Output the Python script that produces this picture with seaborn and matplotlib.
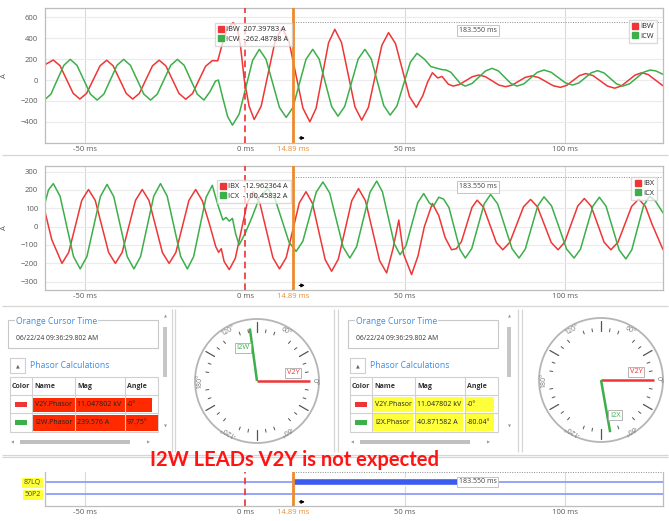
import numpy as np
import pandas as pd
import seaborn as sns
import matplotlib.pyplot as plt
from matplotlib.lines import Line2D
from matplotlib.patches import Rectangle

sns.set_style('white')
plt.rcParams['font.family'] = ['Open Sans', 'DejaVu Sans']

W, H = 669, 521

# ---- waveform data (ms, A) ----
ibw_t = [-62.8, -60, -57.9, -55.85, -53.8, -51.7, -49.6, -47.5, -45.4, -43.3, -41.3, -39.25, -37.2, -35.2, -33.1, -31.05,
         -29.0, -26.9, -24.8, -22.75, -20.7, -18.6, -16.5, -14.45, -12.4, -10.3, -8.6, -7.4, -5.8, -3.8, -2.5, -1.5, -0.3,
         1.2, 2.8, 4.98, 7.15, 9.33, 11.5, 13.68, 15.85, 18.03, 20.2, 22.15, 24.1, 26.05, 28, 30.1, 32.2, 34.3, 36.4,
         38.5, 40.6, 42.7, 44.8, 46.98, 49.15, 51.33, 53.5, 55.5, 57, 58.5, 60.2, 61.5, 63.5, 65, 67, 69, 71, 73, 75.1,
         77.2, 79.3, 81.4, 83.4, 85.45, 87.5, 89.5, 91.75, 94, 96.25, 98.5, 100.5, 102.5, 104.5, 106.5, 108.75, 111,
         113.25, 115.5, 117.6, 119.75, 121.9, 124, 126, 128, 130.6]
ibw_a = [144, 192, 137, 5, -127, -182, -128, 4, 136, 190, 136, 4, -128, -182, -128, 4,
         136, 190, 135, 3, -129, -184, -130, 1, 132, 186, 184, 320, 480, 550, 500, 330, 0,
         -250, -378, -250, 61, 372, 500, 369, 50, -269, -400, -271, 43, 357, 486, 359, 51, -257, -384,
         -262, 35, 332, 454, 349, 96, -157, -262, -150, -20, 70, 20, 35, -40, -58, -42, -5, 32, 48, 32,
         -8, -48, -64, -49, -12, 25, 40, 24, -15, -54, -70, -51, -4, 43, 62, 42, -8,
         -58, -78, -56, -4, 48, 70, 52, 5, -55]

icw_t = [-62.8, -60.75, -58.75, -56.7, -54.7, -52.6, -50.5, -48.4, -46.3, -44.2, -42.15, -40.1, -38, -35.9, -33.8,
         -31.7, -29.6, -27.5, -25.4, -23.3, -21.2, -19.1, -17.05, -15.0, -12.9, -11, -9.3, -8.4, -7.2, -5.5, -4, -1.9,
         0.2, 2.3, 4.4, 6.5, 8.6, 10.7, 12.8, 14.9, 16.95, 19.0, 21.1, 23.1, 25.05, 27.0, 29, 31.1, 33.2, 35.3, 37.4,
         39.4, 41.35, 43.3, 45.3, 47.4, 49.5, 51.6, 53.7, 56, 58, 60, 61.5, 62.8, 64.3, 65.8, 67.3, 68.8, 70.9, 73,
         75.1, 77.2, 79.15, 81.1, 83.05, 85, 87.1, 89.2, 91.3, 93.4, 95.6, 97.85, 100.1, 102.3, 104.3, 106.25, 108.2,
         110.2, 112.15, 114.1, 116.05, 118, 120.15, 122.3, 124.45, 126.6, 128.3, 130.6]
icw_a = [-192, -135, 3, 141, 198, 141, 3, -135, -192, -135, 3, 141, 198, 141, 3,
         -135, -192, -135, 3, 141, 198, 141, 3, -135, -192, -110, -10, 0, -150, -350, -432, -326,
         -69, 188, 294, 199, -32, -263, -358, -263, -32, 199, 294, 201, -26, -253, -346, -253, -26, 201, 294,
         202, -21, -244, -336, -250, -40, 170, 256, 200, 130, 112, 100, 96, 74, 19, -36, -58, -33, 27,
         87, 112, 87, 27, -33, -58, -36, 19, 74, 96, 75, 24, -27, -48, -28, 21, 70,
         90, 68, 16, -36, -58, -36, 19, 74, 96, 88, 55]

ibx_t = [-62.8, -60.5, -57.3, -55.2, -53.15, -51.1, -49, -46.9, -44.8, -42.7, -40.6, -38.5, -36.4, -34.3, -32.2, -30.1,
         -28.0, -25.9, -23.8, -21.7, -19.65, -17.6, -15.5, -13.4, -11.3, -9.2, -8.3, -7.5, -6.6, -5, -3.1, -1.25, 0.6,
         2.5, 4.55, 6.6, 8.65, 10.7, 12.8, 14.85, 16.9, 19, 21, 23, 25, 27, 29.1, 31.2, 33.3, 35.4, 37.6, 39.8, 42.0,
         44.2, 46.2, 48, 49.5, 52, 54, 56, 58.5, 60.5, 62.5, 64.5, 66, 67.6, 69.25, 70.9, 72.5, 74.5, 76.5, 78.5, 80.5,
         82.7, 84.85, 87.0, 89.2, 91.35, 93.5, 95.65, 97.8, 99.85, 101.9, 103.95, 106, 108.1, 110.15, 112.2, 114.3,
         116.5, 118.65, 120.8, 123, 125.1, 127.2, 130.6]
ibx_a = [95, -70, -200, -141, 1, 143, 202, 143, 1, -141, -200, -141, 1, 143, 202, 143,
         1, -141, -200, -141, 1, 143, 202, 140, 20, -110, -140, -120, -190, -234, -172, -22, 128,
         190, 129, -20, -169, -230, -169, -20, 129, 190, 127, -27, -180, -243, -177, -18, 141, 207, 140, -23, -185,
         -252, -120, 36, -150, -261, -160, 0, 126, 60, -60, -126, -120, -81, 12, 105, 144, 105, 9, -87, -126,
         -86, 11, 108, 148, 108, 11, -86, -126, -85, 14, 112, 153, 112, 14, -85, -126,
         -86, 12, 110, 150, 110, 12, -125]

icx_t = [-62.8, -61.5, -60, -57.9, -55.8, -53.7, -51.6, -49.5, -47.4, -45.3, -43.2, -41.1, -39.0, -36.9, -34.8, -32.7,
         -30.65, -28.6, -26.5, -24.4, -22.3, -20.2, -18.1, -16.15, -14.2, -12.25, -10.3, -8.6, -7, -6, -5, -4, -3,
         -1.9, 0, 2.2, 4.5, 7, 9.2, 11.45, 13.7, 15.9, 18.0, 20.1, 22.2, 24.3, 26.4, 28.5, 30.6, 32.7, 34.8, 36.9,
         39.0, 41.1, 42.9, 44.75, 46.6, 48.4, 50.25, 52.1, 53.95, 55.8, 57.5, 58.8, 60.5, 62, 63.7, 65.4, 67.1, 68.8,
         70.8, 72.75, 74.7, 76.7, 78.9, 81.15, 83.4, 85.6, 87.55, 89.5, 91.45, 93.4, 95.75, 98.1, 100.45, 102.8,
         104.8, 106.75, 108.7, 110.7, 112.8, 114.85, 116.9, 119, 120.85, 122.7, 124.55, 126.4, 128.2, 130.6]
icx_a = [117, 200, 234, 166, 2, -162, -230, -163, 0, 163, 230, 163, 0, -163, -230, -162,
         2, 166, 234, 166, 2, -162, -230, -164, -2, 159, 225, 120, 36, 50, 30, 45, -40,
         -100, -36, 55, 160, 207, 157, 36, -85, -135, -80, 54, 188, 243, 183, 36, -111, -171, -110, 39,
         187, 248, 189, 48, -94, -153, -104, 14, 131, 180, 130, 110, 160, 150, 103, -10, -124, -171,
         -120, 2, 124, 175, 124, 2, -120, -171, -122, -4, 113, 162, 113, -4, -122, -171,
         -123, -5, 112, 160, 111, -8, -127, -176, -126, -5, 115, 165, 140, 75]

cursor_t = 14.89
span_label = '183.550 ms'
xtick_vals = [-50, 0, 14.89, 50, 100]
xtick_txt = ['-50 ms', '0 ms', '14.89 ms', '50 ms', '100 ms']

top_legend = ['IBW  207.39783 A', 'ICW  -262.48788 A']
mid_legend = ['IBX  -12.962364 A', 'ICX  -100.45832 A']

# digital channels
dig_names = ['87LQ', '50P2']
dig_on_start = [14.89, None]
dig_on_end = [66.4, None]

# phasor tables
tbl_head = ['Color', 'Name', 'Mag', 'Angle']
left_names = ['V2Y.Phasor', 'I2W.Phasor']
left_mags = ['11.047802 kV', '239.576 A']
left_angles = ['-0°', '97.75°']
left_deg = [0, 97.75]
right_names = ['V2Y.Phasor', 'I2X.Phasor']
right_mags = ['11.047802 kV', '40.871582 A']
right_angles = ['-0°', '-80.04°']
right_deg = [0, -80.04]
left_tags = ['V2Y', 'I2W']
right_tags = ['V2Y', 'I2X']
dial_deg = [0, 60, 120, 180, 240, 300]
dial_txt = ['0°', '60°', '120°', '180°', '-120°', '-60°']

RED = '#ee3636'
GREEN = '#3caf4a'
ORANGE = '#ee8a2c'
BLUE = '#3a8ee8'
GRAY = '#5a5a5a'
XLIM = (-62.6, 130.6)


def px(x0, y0, x1, y1):
    return [x0 / W, 1 - y1 / H, (x1 - x0) / W, (y1 - y0) / H]


fig = plt.figure(figsize=(W / 100, H / 100), dpi=100)
bg = fig.add_axes([0, 0, 1, 1])
bg.set_xlim(0, W)
bg.set_ylim(H, 0)
bg.axis('off')

# separators / panel borders
bg.hlines([155, 306, 455, 457], 2, W - 1, color='#d6d6d6', lw=0.9)
bg.vlines([172, 175, 334, 338, 518, 522], 309, 452, color='#d6d6d6', lw=0.9)


def style_time_axis(ax):
    ax.set_xlim(*XLIM)
    ax.set_xticks(xtick_vals, xtick_txt)
    ax.tick_params(length=0, labelsize=5.5, labelcolor=GRAY, pad=2.5)
    ax.get_xticklabels()[2].set_color(ORANGE)
    for s in ax.spines.values():
        s.set_color('#bdbdbd')
        s.set_linewidth(0.9)
    for v in [-50, 50, 100]:
        ax.axvline(v, color='#d9d9d9', lw=0.8, zorder=0)
    ax.axvline(0, color='#f03030', ls=(0, (4, 2.5)), lw=1.2, zorder=3)
    ax.axvline(cursor_t, color=ORANGE, lw=2, zorder=3)
    ax.set_xlabel('')


def wave_panel(ax, df, pal, ylim, yticks, names, lbl_y, dot_y, arr_y):
    sns.lineplot(data=df, x='t', y='A', hue='sig', palette=pal, estimator=None, sort=False,
                 lw=1.1, legend=False, ax=ax)
    ax.set_ylim(*ylim)
    ax.set_yticks(yticks)
    ax.grid(axis='y', color='#ebebeb', lw=0.8)
    ax.set_axisbelow(True)
    style_time_axis(ax)
    ax.tick_params(axis='y', pad=5)
    ax.set_ylabel('A', fontsize=5.5, color=GRAY)
    ax.yaxis.set_label_coords(-37 / 618, 0.5)
    ax.plot([cursor_t, XLIM[1]], [dot_y, dot_y], ls=(0, (1, 1.5)), color='#8c8c8c', lw=0.7)
    ax.text(72.7, lbl_y, span_label, fontsize=5, color='#444', ha='center', va='center',
            bbox=dict(fc='white', ec='#c4c4c4', lw=0.7, pad=1.5))
    ax.annotate('', xy=(19.5, arr_y), xytext=(16.0, arr_y),
                arrowprops=dict(arrowstyle='-|>', color='k', lw=0.8, mutation_scale=5))
    h = [Line2D([], [], marker='s', ls='', color=pal[n], markersize=4) for n in names]
    kw = dict(fontsize=5.3, frameon=True, fancybox=False, edgecolor='#cfcfcf', framealpha=0.75,
              handletextpad=0.3, borderpad=0.45, labelspacing=0.35, handlelength=0.8,
              bbox_transform=fig.transFigure)
    return h, kw


top_df = pd.concat([pd.DataFrame({'t': ibw_t, 'A': ibw_a, 'sig': 'IBW'}),
                    pd.DataFrame({'t': icw_t, 'A': icw_a, 'sig': 'ICW'})])
mid_df = pd.concat([pd.DataFrame({'t': ibx_t, 'A': ibx_a, 'sig': 'IBX'}),
                    pd.DataFrame({'t': icx_t, 'A': icx_a, 'sig': 'ICX'})])

ax1 = fig.add_axes(px(45, 8, 663, 143))
h, kw = wave_panel(ax1, top_df, {'IBW': RED, 'ICW': GREEN}, (-603, 690), range(-400, 601, 200),
                   ['IBW', 'ICW'], 471, 560, -555)
l1 = ax1.legend(h, top_legend, loc='upper left', bbox_to_anchor=(211 / W, 1 - 19 / H), **kw)
ax1.add_artist(l1)
ax1.legend(h, ['IBW', 'ICW'], loc='upper right', bbox_to_anchor=(661 / W, 1 - 16 / H), **kw)

ax2 = fig.add_axes(px(45, 166, 663, 290))
h, kw = wave_panel(ax2, mid_df, {'IBX': RED, 'ICX': GREEN}, (-345, 330), range(-300, 301, 100),
                   ['IBX', 'ICX'], 216, 270, -320)
l2 = ax2.legend(h, mid_legend, loc='upper left', bbox_to_anchor=(213 / W, 1 - 176 / H), **kw)
ax2.add_artist(l2)
ax2.legend(h, ['IBX', 'ICX'], loc='upper right', bbox_to_anchor=(661 / W, 1 - 173 / H), **kw)

# ---- digital channels ----
ax3 = fig.add_axes(px(45, 472, 663, 506))
ypos = list(range(len(dig_names)))
ax3.hlines(ypos, XLIM[0], XLIM[1], color='#8e9ef7', lw=1.3)
for y, s, e in zip(ypos, dig_on_start, dig_on_end):
    if s is not None:
        ax3.barh(y, e - s, left=s, height=0.55, color='#3c5cf0', zorder=2)
ax3.set_ylim(1.975, -0.787)
ax3.set_yticks(ypos, dig_names)
style_time_axis(ax3)
ax3.spines['top'].set_visible(False)
ax3.tick_params(axis='y', labelsize=5, labelcolor='#444', pad=3)
for lb in ax3.get_yticklabels():
    lb.set_bbox(dict(fc='#ffff3a', ec='none', pad=1.2))
ax3.plot([cursor_t, XLIM[1]], [-0.787, -0.787], ls=(0, (1, 1.5)), color='#8c8c8c', lw=0.7, clip_on=False)
ax3.text(72.7, 0, span_label, fontsize=5, color='#444', ha='center', va='center',
         bbox=dict(fc='white', ec='#c4c4c4', lw=0.7, pad=1.2), zorder=4)
ax3.annotate('', xy=(19.5, 1.64), xytext=(16.0, 1.64),
             arrowprops=dict(arrowstyle='-|>', color='k', lw=0.8, mutation_scale=5))


# ---- phasor info panels ----
def info_panel(dx, sb_x, names, mags, angles, hl):
    bg.add_patch(Rectangle((8 + dx, 320), 150, 28, fill=False, ec='#c8c8c8', lw=0.8))
    bg.text(16 + dx, 321, 'Orange Cursor Time', color=BLUE, fontsize=6.2, va='center',
            bbox=dict(fc='white', ec='none', pad=0.6))
    bg.text(16 + dx, 338, '06/22/24 09:36:29.802 AM', fontsize=4.9, color='#333', va='center')
    bg.add_patch(Rectangle((10 + dx, 358), 15, 15, fill=False, ec='#cfcfcf', lw=0.8))
    bg.text(17.5 + dx, 365.5, '▲', fontsize=3.5, color='#666', ha='center', va='center')
    bg.text(30 + dx, 366, 'Phasor Calculations', color=BLUE, fontsize=6.2, va='center')
    bg.add_patch(Rectangle((10 + dx, 377), 148, 55, fill=False, ec='#d0d0d0', lw=0.8))
    bg.hlines([395, 413], 10 + dx, 158 + dx, color='#d0d0d0', lw=0.8)
    bg.vlines([32 + dx, 75 + dx, 125 + dx], 377, 432, color='#d0d0d0', lw=0.8)
    for x, t in zip([12, 34, 77, 127], tbl_head):
        bg.text(x + dx, 386, t, fontsize=5, fontweight='bold', color='#333', va='center')
    hl(dx)
    for i, (n, m, a, c) in enumerate(zip(names, mags, angles, [RED, GREEN])):
        y = 404 + 18 * i
        bg.add_patch(Rectangle((15 + dx, y - 2.5), 12, 5, fc=c, ec='none'))
        bg.text(35 + dx, y, n, fontsize=5, color='#222', va='center')
        bg.text(77 + dx, y, m, fontsize=5, color='#222', va='center')
        bg.text(127 + dx, y, a, fontsize=5, color='#222', va='center')
    # scrollbars
    bg.add_patch(Rectangle((sb_x - 2, 327), 4, 50, fc='#c6c6c6', ec='none'))
    bg.text(sb_x, 317, '▲', fontsize=2.8, color='#999', ha='center', va='center')
    bg.text(sb_x, 427, '▼', fontsize=2.8, color='#999', ha='center', va='center')
    bg.add_patch(Rectangle((20 + dx, 440), 110, 4, fc='#c0c0c0', ec='none'))
    bg.text(12 + dx, 442, '◀', fontsize=2.8, color='#999', ha='center', va='center')
    bg.text(148 + dx, 442, '▶', fontsize=2.8, color='#999', ha='center', va='center')


def red_marker(dx):
    bg.add_patch(Rectangle((32 + dx, 398), 120, 14, fc='#ff2a00', ec='none'))
    bg.add_patch(Rectangle((32 + dx, 415), 126, 16, fc='#ff2a00', ec='none'))


def yellow_marker(dx):
    for y0, y1 in [(397, 412), (414, 431)]:
        for x0, x1 in [(33, 73), (76, 123), (126, 154)]:
            bg.add_patch(Rectangle((x0 + dx, y0), x1 - x0, y1 - y0, fc='#ffff3a', ec='none'))


info_panel(0, 165, left_names, left_mags, left_angles, red_marker)
info_panel(340, 509, right_names, right_mags, right_angles, yellow_marker)


# ---- phasor dials ----
def dial(rect, degs, tags, tag_pos):
    pa = fig.add_axes(rect, projection='polar')
    pa.set_ylim(0, 62)
    pa.set_xticks([])
    pa.set_yticks([])
    pa.grid(False)
    pa.spines['polar'].set_color('#b5b5b5')
    pa.spines['polar'].set_linewidth(1.3)
    for d in range(0, 360, 10):
        th = np.deg2rad(d)
        if d % 60 == 30:
            pa.plot([th, th], [49, 59], color='#555', lw=0.9)
        elif d % 60 != 0:
            pa.plot([th, th], [49, 52], color='#555', lw=0.7)
    for d, t in zip(dial_deg, dial_txt):
        pa.text(np.deg2rad(d), 57.5, t, rotation=d - 90, ha='center', va='center',
                fontsize=5, color='#777', rotation_mode='anchor')
    for d, c in zip(degs, [RED, GREEN]):
        pa.plot([0, np.deg2rad(d)], [0, 53], color=c, lw=1.8, solid_capstyle='butt')
    for t, c, (pd_, pr) in zip(tags, [RED, GREEN], tag_pos):
        pa.text(np.deg2rad(pd_), pr, t, color=c, fontsize=5.3, ha='center', va='center',
                bbox=dict(fc='white', ec='#a8a8a8', lw=0.6, pad=1.2))


dial(px(195, 319, 319, 443), left_deg, left_tags, [(12.5, 37), (113, 36)])
dial(px(539, 318, 663, 442), right_deg, right_tags, [(13, 36), (-68, 38)])

fig.text(294 / W, 1 - 460 / H, 'I2W LEADs V2Y is not expected', ha='center', va='center',
         fontsize=14.5, fontweight='bold', color='#ff1414', family=['Lato', 'DejaVu Sans'])

fig.savefig('out.png', dpi=100)
